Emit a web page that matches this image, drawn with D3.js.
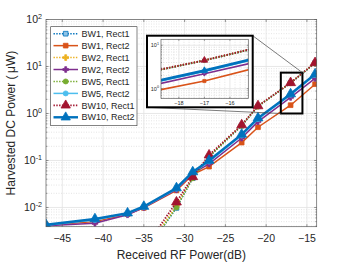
<!DOCTYPE html>
<head>
  <meta charset="utf-8">
  <script src="https://d3js.org/d3.v7.min.js"></script>
  <style>
    body { margin:0; background:#fff; }
    svg { display:block; font-family:"Liberation Sans", Arial, sans-serif; }
  </style>
</head>
<body>
<script>
// received power (dB) and harvested power (uW) per series
var rfPower   = [-47, -41, -37, -35, -31, -29, -27, -23, -21, -17, -14];
var bw1Rect1  = [0.0001, 0.0002, 0.0005, 0.0010, 0.0098, 0.042, 0.12, 0.55, 1.42, 4.45, 11.8];
var bw1Rect2  = [0.0042, 0.0050, 0.0072, 0.0098, 0.023, 0.050, 0.074, 0.24, 0.51, 1.50, 4.2];
var bw2Rect1  = [0.0001, 0.0002, 0.0005, 0.0011, 0.0110, 0.043, 0.125, 0.56, 1.43, 4.5, 11.9];
var bw2Rect2  = [0.0041, 0.0046, 0.0070, 0.0100, 0.024, 0.053, 0.085, 0.30, 0.67, 2.2, 5.6];
var bw5Rect1  = [0.0001, 0.0002, 0.0005, 0.0010, 0.0100, 0.042, 0.12, 0.55, 1.42, 4.45, 11.8];
var bw5Rect2  = [0.0042, 0.0054, 0.0074, 0.0102, 0.025, 0.055, 0.095, 0.34, 0.76, 2.5, 6.6];
var bw10Rect1 = [0.0001, 0.0002, 0.0005, 0.0013, 0.013, 0.045, 0.13, 0.57, 1.45, 4.5, 12];
var bw10Rect2 = [0.0043, 0.0057, 0.0076, 0.0105, 0.026, 0.057, 0.10, 0.36, 0.80, 2.6, 6.9];

var seriesNames = ["BW1, Rect1", "BW1, Rect2", "BW2, Rect1", "BW2, Rect2",
                   "BW5, Rect1", "BW5, Rect2", "BW10, Rect1", "BW10, Rect2"];
var seriesValues = [bw1Rect1, bw1Rect2, bw2Rect1, bw2Rect2, bw5Rect1, bw5Rect2, bw10Rect1, bw10Rect2];

var xTicks = [-45, -40, -35, -30, -25, -20, -15];
var yTicks = [-2, -1, 0, 1, 2];          // exponents of 10
var insetXTicks = [-18, -17, -16];
var insetYTicks = [0, 1];
var zoomX = [-18.2, -15.55], zoomY = [1.0, 7.4];

// look of each series
var styles = [
  {c:"#0072BD", dot:true,  sym:d3.symbolSquare,   fill:"#8fc3e6", size:22, w:1.5},
  {c:"#D95319", dot:false, sym:d3.symbolSquare,   fill:"#D95319", size:22, w:1.5},
  {c:"#EDB120", dot:true,  sym:d3.symbolCross,    fill:"#EDB120", size:18, w:1.5},
  {c:"#7E2F8E", dot:false, sym:d3.symbolCross,    fill:"#7E2F8E", size:18, w:1.5},
  {c:"#77AC30", dot:true,  sym:d3.symbolCircle,   fill:"#77AC30", size:20, w:1.5},
  {c:"#4DBEEE", dot:false, sym:d3.symbolCircle,   fill:"#4DBEEE", size:20, w:1.5},
  {c:"#A2142F", dot:true,  sym:d3.symbolTriangle, fill:"#A2142F", size:42, w:1.8},
  {c:"#0072BD", dot:false, sym:d3.symbolTriangle, fill:"#0072BD", size:42, w:2.4}
];

var W = 349, H = 263;
var svg = d3.select("body").append("svg").attr("width", W).attr("height", H);

var x = d3.scaleLinear().domain([-47, -13.8]).range([46, 316.7]);
var y = d3.scaleLog().domain([0.0039, 100]).range([226.7, 19.5]);

function minorVals(sc) {
  var d = sc.domain(), out = [];
  for (var e = Math.floor(Math.log10(d[0])); e <= Math.ceil(Math.log10(d[1])); e++)
    for (var m = 2; m <= 9; m++) {
      var v = m * Math.pow(10, e);
      if (v > d[0] && v < d[1]) out.push(v);
    }
  return out;
}

function drawAxes(g, xs, ys, xt, yt, opt) {
  var x0 = xs.range()[0], x1 = xs.range()[1], y0 = ys.range()[1], y1 = ys.range()[0];
  g.append("rect").attr("x", x0).attr("y", y0).attr("width", x1 - x0).attr("height", y1 - y0)
    .attr("fill", "#fff");
  // minor grid
  g.selectAll(".mg").data(minorVals(ys)).enter().append("line")
    .attr("x1", x0).attr("x2", x1).attr("y1", ys).attr("y2", ys)
    .attr("stroke", "#d4d4d4").attr("stroke-width", 0.6).attr("stroke-dasharray", "1,1.5");
  if (opt.xMinor) {
    g.selectAll(".mgx").data(opt.xMinor).enter().append("line")
      .attr("y1", y0).attr("y2", y1).attr("x1", xs).attr("x2", xs)
      .attr("stroke", "#d4d4d4").attr("stroke-width", 0.6).attr("stroke-dasharray", "1,1.5");
  }
  // major grid
  g.selectAll(".gx").data(xt).enter().append("line")
    .attr("y1", y0).attr("y2", y1).attr("x1", xs).attr("x2", xs)
    .attr("stroke", "#e2e2e2").attr("stroke-width", 0.8);
  g.selectAll(".gy").data(yt).enter().append("line")
    .attr("x1", x0).attr("x2", x1)
    .attr("y1", function(e){ return ys(Math.pow(10, e)); })
    .attr("y2", function(e){ return ys(Math.pow(10, e)); })
    .attr("stroke", "#e2e2e2").attr("stroke-width", 0.8);
}

function drawFrame(g, xs, ys, xt, yt, opt) {
  var x0 = xs.range()[0], x1 = xs.range()[1], y0 = ys.range()[1], y1 = ys.range()[0];
  var tl = opt.tick;
  // ticks inside
  xt.forEach(function(t) {
    g.append("line").attr("x1", xs(t)).attr("x2", xs(t)).attr("y1", y1).attr("y2", y1 - tl).attr("stroke", "#555").attr("stroke-width", 0.6);
    g.append("line").attr("x1", xs(t)).attr("x2", xs(t)).attr("y1", y0).attr("y2", y0 + tl).attr("stroke", "#555").attr("stroke-width", 0.6);
  });
  yt.forEach(function(e) {
    var yy = ys(Math.pow(10, e));
    g.append("line").attr("x1", x0).attr("x2", x0 + tl).attr("y1", yy).attr("y2", yy).attr("stroke", "#555").attr("stroke-width", 0.6);
    g.append("line").attr("x1", x1).attr("x2", x1 - tl).attr("y1", yy).attr("y2", yy).attr("stroke", "#555").attr("stroke-width", 0.6);
  });
  minorVals(ys).forEach(function(v) {
    var yy = ys(v);
    g.append("line").attr("x1", x0).attr("x2", x0 + tl * 0.6).attr("y1", yy).attr("y2", yy).attr("stroke", "#555").attr("stroke-width", 0.5);
    g.append("line").attr("x1", x1).attr("x2", x1 - tl * 0.6).attr("y1", yy).attr("y2", yy).attr("stroke", "#555").attr("stroke-width", 0.5);
  });
  g.append("rect").attr("x", x0).attr("y", y0).attr("width", x1 - x0).attr("height", y1 - y0)
    .attr("fill", "none").attr("stroke", "#5a5a5a").attr("stroke-width", 0.7);

  // tick labels
  g.selectAll(".xl").data(xt).enter().append("text")
    .attr("x", xs).attr("y", y1 + opt.xlOff)
    .attr("text-anchor", "middle").attr("font-size", opt.fs).attr("fill", "#262626")
    .text(function(t){ return String(t).replace("-", "\u2212"); });
  yt.forEach(function(e) {
    var t = g.append("text").attr("x", x0 - opt.ylOff).attr("y", ys(Math.pow(10, e)) + opt.fs * 0.36)
      .attr("text-anchor", "end").attr("font-size", opt.fs).attr("fill", "#262626");
    t.append("tspan").text("10");
    t.append("tspan").attr("dy", -opt.fs * 0.45).attr("font-size", opt.fs * 0.68).text(e);
  });
}

function drawSeries(g, xs, ys, clipId, ms) {
  var line = d3.line().x(function(d){ return xs(d[0]); }).y(function(d){ return ys(d[1]); });
  var cg = g.append("g").attr("clip-path", "url(#" + clipId + ")");
  seriesValues.forEach(function(vals, i) {
    var st = styles[i];
    var pts = rfPower.map(function(p, k){ return [p, vals[k]]; });
    cg.append("path").datum(pts).attr("d", line).attr("fill", "none")
      .attr("stroke", st.c).attr("stroke-width", st.w * ms.lw)
      .attr("stroke-dasharray", st.dot ? "1.4,1.4" : null);
    var sym = d3.symbol().type(st.sym).size(st.size * ms.s);
    cg.selectAll(null).data(pts).enter().append("path")
      .attr("d", sym)
      .attr("transform", function(d){ return "translate(" + xs(d[0]) + "," + ys(d[1]) + ")"; })
      .attr("fill", st.fill).attr("stroke", st.c).attr("stroke-width", 0.8);
  });
}

var defs = svg.append("defs");
defs.append("clipPath").attr("id", "clipMain").append("rect")
  .attr("x", 46).attr("y", 19.5).attr("width", 316.7 - 46).attr("height", 226.7 - 19.5);

// main axes
var main = svg.append("g");
drawAxes(main, x, y, xTicks, yTicks, {});
drawSeries(main, x, y, "clipMain", {s:1, lw:1});
drawFrame(main, x, y, xTicks, yTicks, {tick:2.5, fs:10.5, xlOff:15, ylOff:4});

// axis titles
svg.append("text").attr("x", (46 + 316.7) / 2).attr("y", 259)
  .attr("text-anchor", "middle").attr("font-size", 12).attr("fill", "#262626")
  .text("Received RF Power(dB)");
svg.append("text").attr("transform", "translate(15," + ((19.5 + 226.7) / 2) + ") rotate(-90)")
  .attr("text-anchor", "middle").attr("font-size", 12).attr("fill", "#262626")
  .text("Harvested DC Power (\u2009\u03bcW)");

// zoom box on main plot
var zx0 = x(zoomX[0]), zx1 = x(zoomX[1]), zy0 = y(zoomY[1]), zy1 = y(zoomY[0]);
svg.append("rect").attr("x", zx0).attr("y", zy0).attr("width", zx1 - zx0).attr("height", zy1 - zy0)
  .attr("fill", "none").attr("stroke", "#000").attr("stroke-width", 2);

// inset frame position
var fx0 = 147, fy0 = 35.7, fx1 = 252.7, fy1 = 107.3;
svg.append("line").attr("x1", fx0).attr("y1", fy1).attr("x2", zx0).attr("y2", zy1)
  .attr("stroke", "#444").attr("stroke-width", 0.7);
svg.append("line").attr("x1", fx1).attr("y1", fy0).attr("x2", zx1).attr("y2", zy0)
  .attr("stroke", "#444").attr("stroke-width", 0.7);

var inset = svg.append("g");
inset.append("rect").attr("x", fx0).attr("y", fy0).attr("width", fx1 - fx0).attr("height", fy1 - fy0)
  .attr("fill", "#fff").attr("stroke", "#000").attr("stroke-width", 2);
var ix = d3.scaleLinear().domain([-18.7, -15.28]).range([161, 248.3]);
var iy = d3.scaleLog().domain([0.6, 13.7]).range([98.3, 39.3]);
defs.append("clipPath").attr("id", "clipInset").append("rect")
  .attr("x", 161).attr("y", 39.3).attr("width", 248.3 - 161).attr("height", 98.3 - 39.3);
var insetMinorX = d3.range(-18.6, -15.3, 0.2).filter(function(v){ return Math.abs(v - Math.round(v)) > 0.05; });
drawAxes(inset, ix, iy, insetXTicks, insetYTicks, {xMinor: insetMinorX});
drawSeries(inset, ix, iy, "clipInset", {s:0.45, lw:1.1});
drawFrame(inset, ix, iy, insetXTicks, insetYTicks, {tick:1.5, fs:5.5, xlOff:6.5, ylOff:2});

// legend
var lg = svg.append("g");
lg.append("rect").attr("x", 50.7).attr("y", 26.7).attr("width", 137 - 50.7).attr("height", 125.7 - 26.7)
  .attr("fill", "#fff").attr("stroke", "#333").attr("stroke-width", 0.6);
seriesNames.forEach(function(name, i) {
  var st = styles[i], yy = 33.7 + i * 11.94;
  lg.append("line").attr("x1", 53.5).attr("x2", 78).attr("y1", yy).attr("y2", yy)
    .attr("stroke", st.c).attr("stroke-width", st.w)
    .attr("stroke-dasharray", st.dot ? "1.4,1.4" : null);
  lg.append("path").attr("d", d3.symbol().type(st.sym).size(st.size * (st.sym === d3.symbolTriangle ? 0.9 : 1)))
    .attr("transform", "translate(65.7," + yy + ")")
    .attr("fill", st.fill).attr("stroke", st.c).attr("stroke-width", 0.8);
  lg.append("text").attr("x", 81.5).attr("y", yy + 3.2).attr("font-size", 9).attr("fill", "#262626")
    .text(name);
});
</script>
</body>
</html>
